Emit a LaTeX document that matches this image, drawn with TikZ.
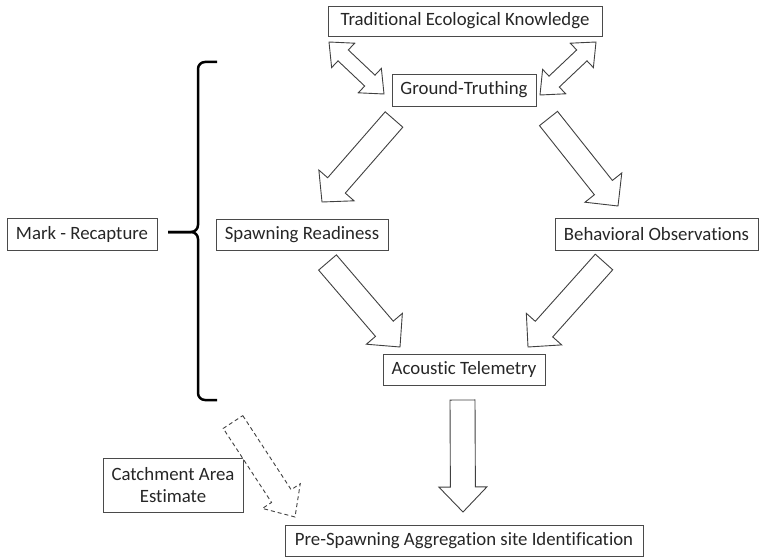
\documentclass[tikz,border=0pt]{standalone}
\usepackage{fontspec}
\setmainfont{Carlito}[Ligatures=CommonOff]
\usetikzlibrary{calc}
\definecolor{boxgray}{HTML}{4A4A4A}
\definecolor{textgray}{HTML}{262626}
\definecolor{arrgray}{HTML}{404040}
\newcommand\blockarrow[6][]{%
  \path ($(#3)!#5!(#2)$) coordinate (babase);
  \draw[blockar,#1] ($(#2)!#4!90:(#3)$) -- ($(babase)!#4!90:(#3)$) -- ($(babase)!#6!90:(#3)$) -- (#3) -- ($(babase)!#6!-90:(#3)$) -- ($(babase)!#4!-90:(#3)$) -- ($(#2)!#4!-90:(#3)$) -- cycle;
}
\newcommand\dblarrow[6][]{%
  \path ($(#2)!#5!(#3)$) coordinate (dbA) ($(#3)!#5!(#2)$) coordinate (dbB);
  \draw[blockar,#1] (#2) -- ($(dbA)!#6!90:(#3)$) -- ($(dbA)!#4!90:(#3)$) -- ($(dbB)!#4!-90:(#2)$) -- ($(dbB)!#6!-90:(#2)$) -- (#3) -- ($(dbB)!#6!90:(#2)$) -- ($(dbB)!#4!90:(#2)$) -- ($(dbA)!#4!-90:(#3)$) -- ($(dbA)!#6!-90:(#3)$) -- cycle;
}
\begin{document}
\begin{tikzpicture}[x=1pt,y=-1pt,
  box/.style={draw=boxgray, line width=0.9pt, inner sep=0pt, text=textgray, align=center,
    font=\fontsize{18.8}{22}\selectfont},
  blockar/.style={draw=arrgray, line width=0.9pt, fill=white, line join=miter},
  dasharrow/.style={dash pattern=on 4pt off 3pt},
  bracestyle/.style={draw=black, line width=2.5pt, rounded corners=7pt}]
\useasboundingbox (0,0) rectangle (763,559);

% nodes
\node[box, minimum width=274pt, minimum height=30pt] (tek) at (465,21) {Traditional Ecological Knowledge};
\node[box, minimum width=144pt, minimum height=32pt] (gt) at (464,90) {Ground-Truthing};
\node[box, minimum width=150pt, minimum height=32pt] (mr) at (82,234) {Mark - Recapture};
\node[box, minimum width=172pt, minimum height=31pt] (sr) at (302,234.5) {Spawning Readiness};
\node[box, minimum width=203pt, minimum height=32pt] (bo) at (656.5,234) {Behavioral Observations};
\node[box, minimum width=162pt, minimum height=31pt] (at) at (464,369.5) {Acoustic Telemetry};
\node[box, minimum width=358pt, minimum height=31pt] (pre) at (464,540.5) {Pre-Spawning Aggregation site Identification};
\node[box, minimum width=140pt, minimum height=54pt] (ca) at (173,485) {Catchment Area\\Estimate};

% connector end points
\coordinate (dl1) at (329,42);   \coordinate (dl2) at (384,94);
\coordinate (dr1) at (596,42);   \coordinate (dr2) at (540,95);
\coordinate (a1t) at (394,119.5); \coordinate (a1h) at (322,202);
\coordinate (a2t) at (548.5,118.5); \coordinate (a2h) at (618,206);
\coordinate (a3t) at (327.5,262.5); \coordinate (a3h) at (400,347);
\coordinate (a4t) at (604,262); \coordinate (a4h) at (528,347);
\coordinate (a5t) at (462.5,400); \coordinate (a5h) at (463,512);
\coordinate (a6t) at (233,422); \coordinate (a6h) at (295,517);

% double arrows TEK <-> Ground-Truthing
\dblarrow{dl1}{dl2}{7.5pt}{19.5pt}{16.8pt}
\dblarrow{dr1}{dr2}{7.5pt}{19.5pt}{16.8pt}

% block arrows
\blockarrow{a1t}{a1h}{11.7pt}{22pt}{23.4pt}
\blockarrow{a2t}{a2h}{11.5pt}{23.5pt}{23.5pt}
\blockarrow{a3t}{a3h}{11.7pt}{24pt}{23.7pt}
\blockarrow{a4t}{a4h}{11.7pt}{24pt}{23.7pt}
\blockarrow{a5t}{a5h}{12.5pt}{25pt}{24pt}
\blockarrow[dasharrow]{a6t}{a6h}{11.7pt}{25pt}{22.6pt}

% brace
\coordinate (brtip) at (168,232);
\draw[bracestyle] (217,62) -- (198,62) -- (198,232) -- (brtip);
\draw[bracestyle] (217,400) -- (198,400) -- (198,232) -- (brtip);
\end{tikzpicture}
\end{document}
